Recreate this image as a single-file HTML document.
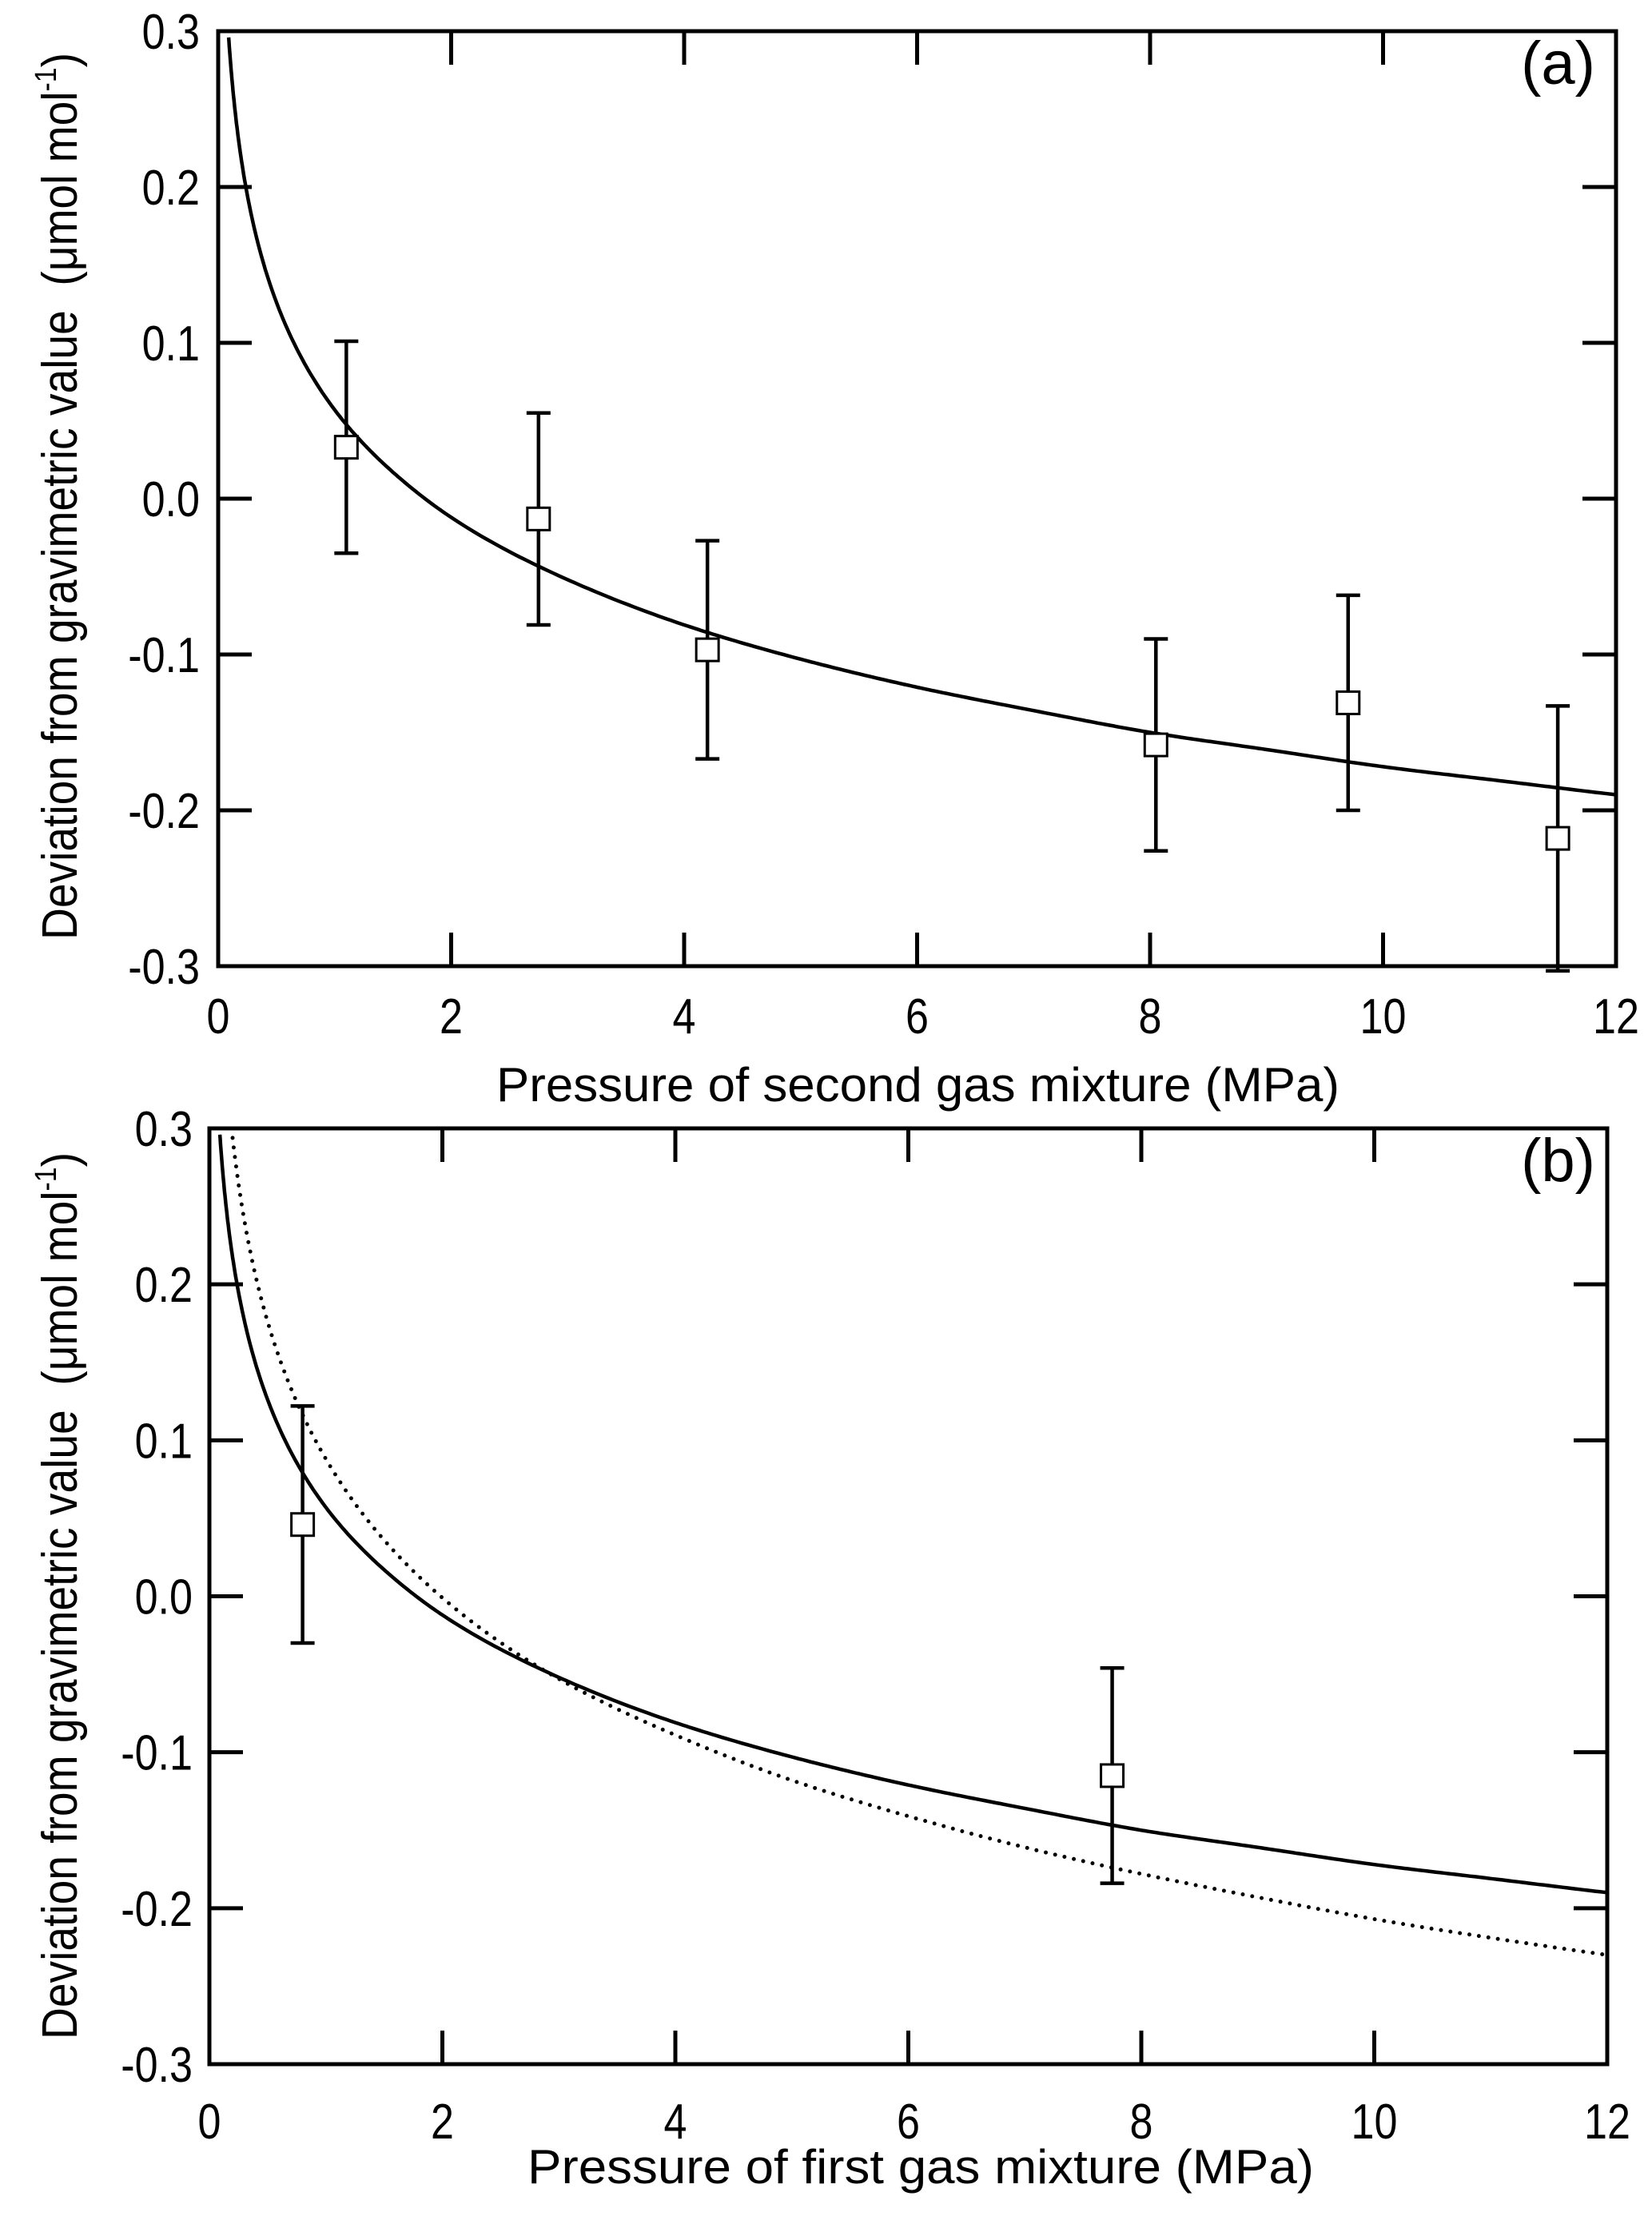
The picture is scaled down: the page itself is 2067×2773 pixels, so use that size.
<!DOCTYPE html>
<html><head><meta charset="utf-8"><style>
html,body{margin:0;padding:0;background:#fff}
svg{display:block}
text{font-family:"Liberation Sans",sans-serif;fill:#000}
</style></head><body>
<svg id="fig" width="2067" height="2773" viewBox="0 0 2067 2773" xmlns="http://www.w3.org/2000/svg"></svg>
<script>
// ---- data ----
const xTicks = [0,2,4,6,8,10,12];
const yTicks = [0.3,0.2,0.1,0.0,-0.1,-0.2,-0.3];
const yTickLabels = ["0.3","0.2","0.1","0.0","-0.1","-0.2","-0.3"];
// panel a points
const aX = [1.1,2.75,4.2,8.05,9.7,11.5];
const aY = [0.033,-0.013,-0.097,-0.158,-0.131,-0.218];
const aErr = [0.068,0.068,0.070,0.068,0.069,0.085];
// panel b points
const bX = [0.8,7.75];
const bY = [0.046,-0.115];
const bErr = [0.076,0.069];
// solid fit curve (read samples)
const solidX = [0.09,0.2,0.5,1,1.5,2,3,4,5,6,7,8,9,10,11,12];
const solidY = [0.296,0.217,0.126,0.057,0.017,-0.012,-0.052,-0.081,-0.103,-0.121,-0.136,-0.150,-0.161,-0.172,-0.181,-0.190];
// dotted curve (panel b)
const dotX = [0.19,0.3,0.5,1,1.5,2,3,4,5,6,7,8,9,10,11,12];
const dotY = [0.300,0.241,0.176,0.088,0.036,-0.001,-0.053,-0.089,-0.118,-0.141,-0.161,-0.178,-0.193,-0.207,-0.219,-0.230];

const NS="http://www.w3.org/2000/svg";
const svg=document.getElementById('fig');
function mk(tag,attrs,parent){const e=document.createElementNS(NS,tag);for(const k in attrs)e.setAttribute(k,attrs[k]);(parent||svg).appendChild(e);return e;}

function curvePath(xs,ys,sx,sy){
  const u=xs.map(x=>Math.log(x));
  const pts=[];
  for(let i=0;i<u.length-1;i++){
    const u0=u[i-1]!==undefined?u[i-1]:2*u[i]-u[i+1], y0=ys[i-1]!==undefined?ys[i-1]:2*ys[i]-ys[i+1];
    const u3=u[i+2]!==undefined?u[i+2]:2*u[i+1]-u[i], y3=ys[i+2]!==undefined?ys[i+2]:2*ys[i+1]-ys[i];
    const u1=u[i],u2=u[i+1],y1=ys[i],y2=ys[i+1];
    const h=u2-u1;
    const m1=(y2-y0)/(u2-u0)*h, m2=(y3-y1)/(u3-u1)*h;
    const N=30;
    for(let k=0;k<(i===u.length-2?N+1:N);k++){
      const t=k/N,t2=t*t,t3=t2*t;
      const y=(2*t3-3*t2+1)*y1+(t3-2*t2+t)*m1+(-2*t3+3*t2)*y2+(t3-t2)*m2;
      const x=Math.exp(u1+t*h);
      pts.push([sx(x),sy(y)]);
    }
  }
  return 'M'+pts.map(p=>p[0].toFixed(1)+','+p[1].toFixed(1)).join(' L');
}

function panel(cfg){
  const g=mk('g',{});
  
  
  const L=cfg.L,R=cfg.R,T=cfg.T,B=cfg.B;
  const sx=x=>L+(x-0)/(12-0)*(R-L);
  const sy=y=>B-(y+0.3)/0.6*(B-T);
  const clipId='clip'+cfg.id;
  const cp=mk('clipPath',{id:clipId},g);mk('rect',{x:L,y:T,width:R-L,height:B-T},cp);
  const c=mk('path',{d:curvePath(solidX,solidY,sx,sy),fill:'none',stroke:'#000','stroke-width':4.5,'clip-path':`url(#${clipId})`},g);
  
  
  if(cfg.dotted){
    const dc=mk('path',{d:curvePath(dotX,dotY,sx,sy),fill:'none',stroke:'#000','stroke-width':5,'stroke-dasharray':'0 12','stroke-linecap':'round','clip-path':`url(#${clipId})`},g);
    
    
  }
  xTicks.forEach(t=>{
    if(t===0||t===12)return;
    const tk=mk('path',{d:`M${sx(t)},${B}V${B-42}M${sx(t)},${T}V${T+42}`,stroke:'#000','stroke-width':5},g);
    
    
  });
  yTicks.forEach(t=>{
    if(t===0.3||t===-0.3)return;
    const tk=mk('path',{d:`M${L},${sy(t)}H${L+42}M${R},${sy(t)}H${R-42}`,stroke:'#000','stroke-width':5},g);
    
    
  });
  const fr=mk('rect',{x:L,y:T,width:R-L,height:B-T,fill:'none',stroke:'#000','stroke-width':5},g);
  
  
  cfg.px.forEach((x,i)=>{
    const X=sx(x),Y=sy(cfg.py[i]),e=cfg.pe[i];
    const y1=sy(cfg.py[i]+e),y2=sy(cfg.py[i]-e);
    const eb=mk('path',{d:`M${X},${y1}V${y2}M${X-15},${y1}H${X+15}M${X-15},${y2}H${X+15}`,stroke:'#000','stroke-width':4.5,fill:'none'},g);
    
    
    const m=mk('rect',{x:X-14,y:Y-14,width:28,height:28,fill:'#fff',stroke:'#000','stroke-width':3},g);
    
    
  });
  xTicks.forEach(t=>{
    const tl=mk('text',{x:sx(t),y:cfg.xLabY,'font-size':62,'text-anchor':'middle',transform:`translate(${sx(t)},0) scale(0.84,1) translate(${-sx(t)},0)`},g);
    tl.textContent=String(t);
    
    
  });
  yTicks.forEach((t,i)=>{
    const yy=sy(t)+22;
    const tl=mk('text',{x:cfg.yLabR,y:yy,'font-size':62,'text-anchor':'end',transform:`translate(${cfg.yLabR},0) scale(0.84,1) translate(${-cfg.yLabR},0)`},g);
    tl.textContent=yTickLabels[i];
    
    
  });
  const xt=mk('text',{x:(cfg.xtL+cfg.xtR)/2,y:cfg.xtY,'font-size':60,'text-anchor':'middle',textLength:cfg.xtR-cfg.xtL,lengthAdjust:'spacingAndGlyphs'},g);
  xt.textContent=cfg.xTitle;
  
  
  const yt=mk('text',{x:0,y:0,'font-size':62,'text-anchor':'middle',transform:`translate(96,${cfg.ytC}) rotate(-90)`,textLength:1110,lengthAdjust:'spacingAndGlyphs'},g);
  yt.innerHTML='Deviation from gravimetric value \u00a0(\u03bcmol mol<tspan dy="-26" font-size="38">-1</tspan><tspan dy="26">)</tspan>';
  
  
  const pl=mk('text',{x:1996,y:cfg.T+66,'font-size':76,'text-anchor':'end'},g);
  pl.textContent=cfg.label;
  
  
}

panel({id:'a',name:'panel-a',L:273,R:2022,T:39,B:1209,dotted:false,px:aX,py:aY,pe:aErr,
  xLabY:1293,yLabR:250,xTitle:'Pressure of second gas mixture (MPa)',xtL:621,xtR:1676,xtY:1378,ytC:621,label:'(a)'});
panel({id:'b',name:'panel-b',L:262,R:2011,T:1412,B:2583,dotted:true,px:bX,py:bY,pe:bErr,
  xLabY:2676,yLabR:241,xTitle:'Pressure of first gas mixture (MPa)',xtL:660,xtR:1644,xtY:2732,ytC:1997,label:'(b)'});
</script>
</body></html>
